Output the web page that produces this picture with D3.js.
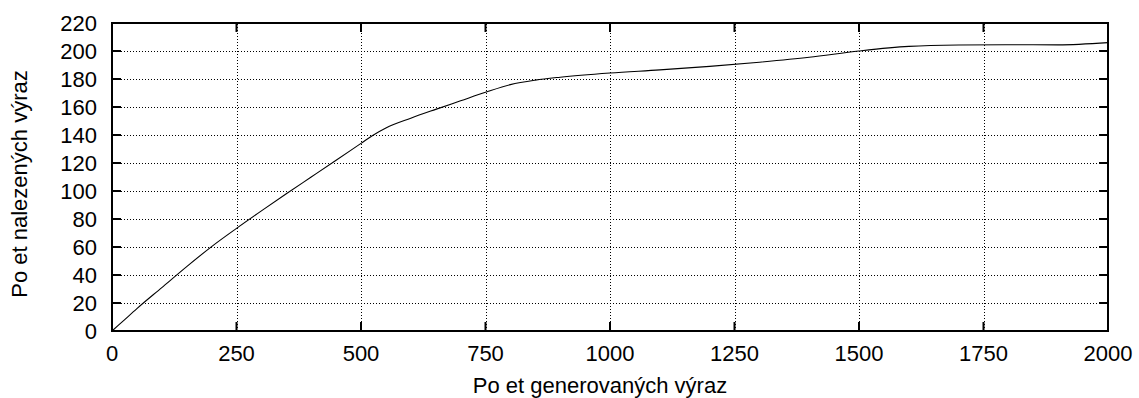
<!DOCTYPE html>
<html>
<head>
<meta charset="utf-8">
<script src="https://cdn.jsdelivr.net/npm/d3@7"></script>
<style>
  body { margin: 0; background: #fff; }
  svg { display: block; font-family: "Liberation Sans", Arial, sans-serif; }
</style>
</head>
<body>
<svg id="chart" width="1139" height="398"></svg>
<script>
// values
const generated = [0, 25, 50, 100, 150, 200, 250, 300, 350, 400, 450, 500, 525, 550, 600, 650, 700, 750, 800, 850, 900, 1000, 1100, 1200, 1300, 1400, 1500, 1600, 1700, 1800, 1900, 2000];
const found = [0, 8, 16, 31, 46, 60.3, 73.3, 85.8, 98, 110, 122, 134, 140, 145, 152, 158.3, 164.4, 170.5, 176, 179.2, 181.3, 184.3, 186.5, 189, 192, 195.5, 200, 203.3, 204.3, 204.5, 204.4, 206];
const xTicks = [0, 250, 500, 750, 1000, 1250, 1500, 1750, 2000];
const yTicks = [0, 20, 40, 60, 80, 100, 120, 140, 160, 180, 200, 220];
const xTitle = "Po et generovaných výraz";
const yTitle = "Po et nalezených výraz";

const svg = d3.select("#chart");
const plot = { left: 112, right: 1108, top: 23, bottom: 331 };
const fontSize = 22;
const tickLen = 9;

const x = d3.scaleLinear().domain([0, 2000]).range([plot.left, plot.right]);
const y = d3.scaleLinear().domain([0, 220]).range([plot.bottom, plot.top]);

// dotted grid
const grid = svg.append("g").attr("class", "grid")
  .attr("stroke", "#000").attr("stroke-width", 1)
  .attr("stroke-dasharray", "1,2").attr("shape-rendering", "crispEdges");

grid.selectAll(".gx").data(xTicks.slice(1, -1)).enter().append("line")
  .attr("x1", d => Math.round(x(d)) + 0.5).attr("x2", d => Math.round(x(d)) + 0.5)
  .attr("y1", plot.bottom).attr("y2", plot.top);

grid.selectAll(".gy").data(yTicks.slice(1, -1)).enter().append("line")
  .attr("y1", d => Math.round(y(d)) + 0.5).attr("y2", d => Math.round(y(d)) + 0.5)
  .attr("x1", plot.left).attr("x2", plot.right);

// inward ticks on all four sides (mirrored)
const ticks = svg.append("g").attr("class", "ticks")
  .attr("stroke", "#000").attr("stroke-width", 2);

xTicks.forEach(d => {
  ticks.append("line").attr("x1", x(d)).attr("x2", x(d))
    .attr("y1", plot.bottom).attr("y2", plot.bottom - tickLen);
  ticks.append("line").attr("x1", x(d)).attr("x2", x(d))
    .attr("y1", plot.top).attr("y2", plot.top + tickLen);
});
yTicks.forEach(d => {
  ticks.append("line").attr("y1", y(d)).attr("y2", y(d))
    .attr("x1", plot.left).attr("x2", plot.left + tickLen);
  ticks.append("line").attr("y1", y(d)).attr("y2", y(d))
    .attr("x1", plot.right).attr("x2", plot.right - tickLen);
});

// data line
const data = generated.map((g, i) => ({ g: g, f: found[i] }));
const line = d3.line()
  .x(d => x(d.g))
  .y(d => y(d.f))
  .curve(d3.curveMonotoneX);

svg.append("path")
  .datum(data)
  .attr("fill", "none")
  .attr("stroke", "#000")
  .attr("stroke-width", 1.1)
  .attr("d", line);

// border
svg.append("rect")
  .attr("x", plot.left).attr("y", plot.top)
  .attr("width", plot.right - plot.left).attr("height", plot.bottom - plot.top)
  .attr("fill", "none").attr("stroke", "#000").attr("stroke-width", 2);

// tick labels
svg.append("g").selectAll("text").data(yTicks).enter().append("text")
  .attr("x", 97).attr("y", d => y(d) + 8)
  .attr("text-anchor", "end").attr("font-size", fontSize)
  .text(d => d);

svg.append("g").selectAll("text").data(xTicks).enter().append("text")
  .attr("x", d => x(d)).attr("y", 361)
  .attr("text-anchor", "middle").attr("font-size", fontSize)
  .text(d => d);

// axis titles
svg.append("text")
  .attr("x", 600).attr("y", 393)
  .attr("text-anchor", "middle").attr("font-size", fontSize)
  .text(xTitle);

svg.append("text")
  .attr("transform", "translate(27,184) rotate(-90)")
  .attr("text-anchor", "middle").attr("font-size", fontSize)
  .text(yTitle);
</script>
</body>
</html>
